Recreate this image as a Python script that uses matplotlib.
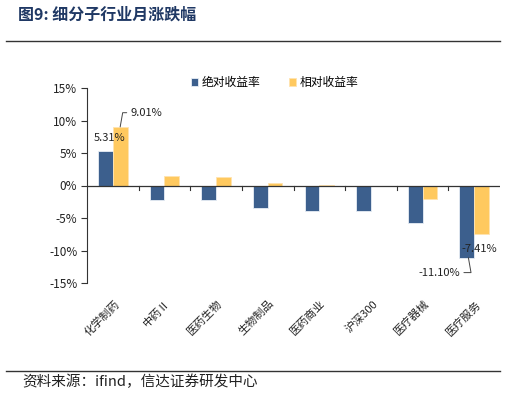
import numpy as np
import matplotlib
matplotlib.use('Agg')
import matplotlib.pyplot as plt
from matplotlib.lines import Line2D

plt.rcParams['font.family'] = ['Noto Sans CJK SC', 'DejaVu Sans']
plt.rcParams['axes.unicode_minus'] = False

categories = ['化学制药', '中药Ⅱ', '医药生物', '生物制品', '医药商业', '沪深300', '医疗器械', '医疗服务']
absolute = [5.31, -2.20, -2.30, -3.40, -3.85, -3.85, -5.80, -11.10]
relative = [9.01, 1.42, 1.27, 0.45, 0.12, 0.0, -2.10, -7.41]
yticks = [-15, -10, -5, 0, 5, 10, 15]

blue = '#3C5F8D'
yellow = '#FFC95F'

fig = plt.figure(figsize=(5.06, 3.97), dpi=100)
W, H = 506, 397

# header / footer
fig.text(18 / W, 1 - 15 / H, '图9: 细分子行业月涨跌幅', fontsize=11.5, fontweight='bold',
         color='#1F3864', va='center', ha='left')
fig.add_artist(Line2D([6 / W, 500 / W], [1 - 40.5 / H] * 2, color='#333333', lw=1.0))
fig.add_artist(Line2D([6 / W, 500 / W], [1 - 370.5 / H] * 2, color='#333333', lw=1.0))
fig.text(22 / W, 1 - 382 / H, '资料来源：ifind，信达证券研发中心', fontsize=10.5,
         color='#222222', va='center', ha='left')

# axes
ax = fig.add_axes([87 / W, 1 - 283 / H, (500 - 87) / W, (283 - 88) / H])
x = np.arange(len(categories))
bw = 0.285
ax.bar(x - bw / 2, absolute, bw, color=blue, edgecolor='#E8EEF5', linewidth=0.6, label='绝对收益率', zorder=2)
ax.bar(x + bw / 2, relative, bw, color=yellow, edgecolor='#FFE3B0', linewidth=0.6, label='相对收益率', zorder=2)

ax.set_xlim(-0.5, len(categories) - 0.5)
ax.set_ylim(-15, 15)
ax.set_yticks(yticks)
ax.set_yticklabels([f'{v}%' for v in yticks], fontsize=8.5, color='#222222')
ax.tick_params(axis='y', direction='out', length=4, width=0.8, color='#333333', pad=3)

for s in ['top', 'right', 'bottom']:
    ax.spines[s].set_visible(False)
ax.spines['left'].set_color('#333333')
ax.spines['left'].set_linewidth(0.8)

# zero line with category-boundary ticks
ax.axhline(0, color='#333333', lw=0.9, zorder=3)
for b in np.arange(0.5, len(categories) - 0.5, 1.0):
    ax.plot([b, b], [0, -0.7], color='#333333', lw=0.8, zorder=3)

ax.set_xticks([])
for i, c in enumerate(categories):
    ax.annotate(c, xy=(i + 0.02, -15), xytext=(0, -11), textcoords='offset points',
                rotation=45, rotation_mode='anchor', ha='right', va='top',
                fontsize=8, color='#222222', annotation_clip=False)

# data labels
ax.text(-0.06, 7.3, '5.31%', fontsize=8, color='#222222', ha='center', va='center', zorder=4)
ax.annotate('9.01%', xy=(0 + bw / 2, relative[0]), xytext=(0.35, 11.2),
            fontsize=8, color='#222222', ha='left', va='center',
            arrowprops=dict(arrowstyle='-', color='#444444', lw=0.7,
                            connectionstyle='angle,angleA=0,angleB=80,rad=0', shrinkA=1, shrinkB=0))
ax.text(7.1, -9.7, '-7.41%', fontsize=8, color='#222222', ha='center', va='center', zorder=4)
ax.annotate('-11.10%', xy=(7 - bw / 2 + 0.03, absolute[7]), xytext=(6.72, -13.4),
            fontsize=8, color='#222222', ha='right', va='center',
            arrowprops=dict(arrowstyle='-', color='#444444', lw=0.7,
                            connectionstyle='angle,angleA=0,angleB=-80,rad=0', shrinkA=1, shrinkB=0))

leg = ax.legend(loc='upper center', bbox_to_anchor=(0.455, 1.085), ncol=2, frameon=False,
                fontsize=8.5, handlelength=0.6, handleheight=0.6, handletextpad=0.3,
                columnspacing=2.4, borderaxespad=0)

fig.savefig('out.png', dpi=100)
